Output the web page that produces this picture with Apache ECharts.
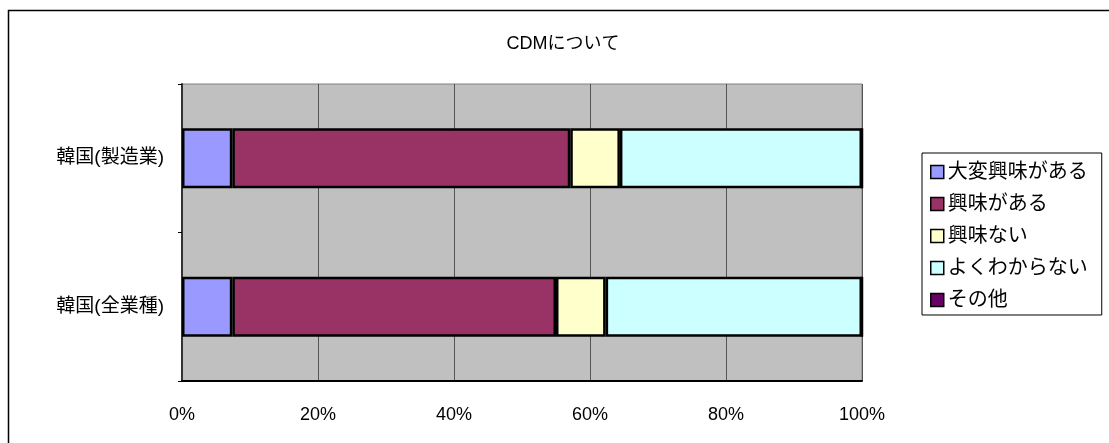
<!DOCTYPE html>
<html><head><meta charset="utf-8">
<script src="https://cdn.jsdelivr.net/npm/echarts@6/dist/echarts.min.js"></script>
<style>html,body{margin:0;padding:0;background:#fff}#c{width:1109px;height:443px}</style>
</head><body><div id="c"></div>
<script>
const categories = ['韓国(製造業)', '韓国(全業種)'];
const seriesNames = ['大変興味がある', '興味がある', '興味ない', 'よくわからない', 'その他'];
const veryInterested = [7.4, 7.4];
const interested = [49.7, 47.6];
const notInterested = [7.3, 7.3];
const unknown = [35.6, 37.7];
const other = [0, 0];
const xTicks = [0, 20, 40, 60, 80, 100];
const colors = ['#9999FF', '#993366', '#FFFFCC', '#CCFFFF', '#660066'];
const values = [veryInterested, interested, notInterested, unknown, other];
const FONT = '"Liberation Sans", "Noto Sans CJK JP", sans-serif';

const chart = echarts.init(document.getElementById('c'), null, {renderer: 'canvas'});
chart.setOption({
  animation: false,
  backgroundColor: '#fff',
  textStyle: {fontFamily: FONT, color: '#000'},
  title: {
    text: 'CDMについて', left: 558, top: 30, textAlign: 'center',
    textStyle: {fontSize: 18, fontWeight: 'normal', color: '#000', fontFamily: FONT}
  },
  graphic: [{
    type: 'rect', shape: {x: 8.5, y: 10.5, width: 1120, height: 460},
    style: {fill: 'none', stroke: '#000', lineWidth: 1.5}, silent: true, z: 100
  }],
  legend: {
    orient: 'vertical', left: 922, top: 153,
    padding: [9, 14, 5, 8], itemGap: 12,
    itemWidth: 13, itemHeight: 13, icon: 'rect',
    borderColor: '#000', borderWidth: 1,
    textStyle: {fontSize: 20, color: '#000', fontFamily: FONT, padding: [0, 0, 0, -1]},
    itemStyle: {borderColor: '#000', borderWidth: 1.5},
    data: seriesNames
  },
  grid: {
    left: 182, top: 84, width: 680, height: 297,
    show: true, backgroundColor: '#C0C0C0', borderColor: '#808080', borderWidth: 1
  },
  xAxis: {
    type: 'value', min: 0, max: 100, interval: 20,
    axisLine: {show: true, lineStyle: {color: '#000', width: 2}},
    axisTick: {show: false},
    splitLine: {show: true, lineStyle: {color: '#555', width: 1}},
    axisLabel: {
      margin: 25, fontSize: 18, color: '#000', fontFamily: FONT,
      formatter: v => xTicks.includes(v) ? v + '%' : ''
    }
  },
  yAxis: {
    type: 'category', data: categories, inverse: true,
    axisLine: {show: true, lineStyle: {color: '#333', width: 2}},
    axisTick: {show: true, length: 4, lineStyle: {color: '#000'}},
    axisLabel: {margin: 18, fontSize: 19, color: '#000', fontFamily: FONT}
  },
  series: seriesNames.map((name, i) => ({
    name, type: 'bar', stack: 'total', barWidth: 60,
    data: values[i],
    itemStyle: {color: colors[i], borderColor: '#000', borderWidth: 2.5},
    emphasis: {disabled: true}
  }))
});
</script></body></html>
